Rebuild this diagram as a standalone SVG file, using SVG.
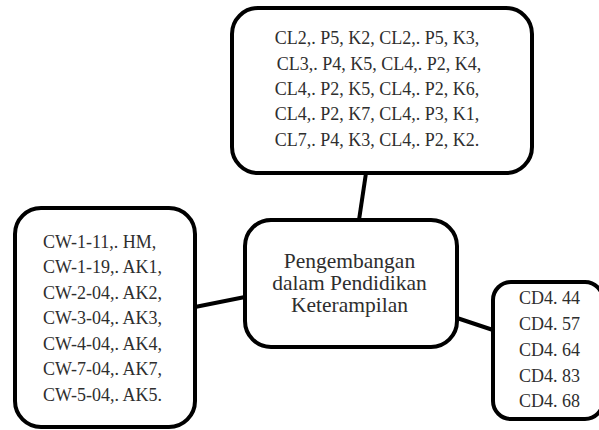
<svg xmlns="http://www.w3.org/2000/svg" width="599" height="430" viewBox="0 0 599 430">
  <style>
    .box { fill: #ffffff; stroke: #000000; stroke-width: 4; }
    .link { stroke: #000000; stroke-width: 4; fill: none; }
    .label { font-family: 'Liberation Serif', 'Times New Roman', serif; font-size: 18px; fill: #2e2e2e; text-anchor: middle; }
    .start { text-anchor: start; }
    .hub { font-size: 21.5px; }
  </style>
  <rect width="599" height="430" fill="#ffffff"/>

  <g id="connectors">
    <line class="link" x1="366" y1="173" x2="359" y2="220"/>
    <line class="link" x1="195" y1="307" x2="245" y2="297"/>
    <line class="link" x1="457" y1="318" x2="493" y2="330"/>
  </g>

  <g id="node-top">
    <rect class="box" x="232" y="8" width="300" height="165" rx="26"/>
    <text class="label" x="377" y="44">CL2,. P5, K2, CL2,. P5, K3,</text>
    <text class="label" x="379" y="69.5">CL3,. P4, K5, CL4,. P2, K4,</text>
    <text class="label" x="377" y="95">CL4,. P2, K5, CL4,. P2, K6,</text>
    <text class="label" x="377" y="120">CL4,. P2, K7, CL4,. P3, K1,</text>
    <text class="label" x="377" y="145.5">CL7,. P4, K3, CL4,. P2, K2.</text>
  </g>

  <g id="node-center">
    <rect class="box" x="245" y="220" width="212" height="127" rx="26"/>
    <text class="label hub" x="349.5" y="268">Pengembangan</text>
    <text class="label hub" x="349.5" y="290">dalam Pendidikan</text>
    <text class="label hub" x="349.5" y="312">Keterampilan</text>
  </g>

  <g id="node-left">
    <rect class="box" x="15" y="208" width="180" height="219" rx="26"/>
    <text class="label start" x="43" y="247.5">CW-1-11,. HM,</text>
    <text class="label start" x="43" y="273">CW-1-19,. AK1,</text>
    <text class="label start" x="43" y="298.5">CW-2-04,. AK2,</text>
    <text class="label start" x="43" y="324">CW-3-04,. AK3,</text>
    <text class="label start" x="43" y="349.5">CW-4-04,. AK4,</text>
    <text class="label start" x="43" y="375">CW-7-04,. AK7,</text>
    <text class="label start" x="43" y="400.5">CW-5-04,. AK5.</text>
  </g>

  <g id="node-right">
    <rect class="box" x="493" y="282" width="110" height="137" rx="18"/>
    <text class="label" x="549.5" y="304">CD4. 44</text>
    <text class="label" x="549.5" y="330">CD4. 57</text>
    <text class="label" x="549.5" y="356">CD4. 64</text>
    <text class="label" x="549.5" y="381.5">CD4. 83</text>
    <text class="label" x="549.5" y="407">CD4. 68</text>
  </g>
</svg>
